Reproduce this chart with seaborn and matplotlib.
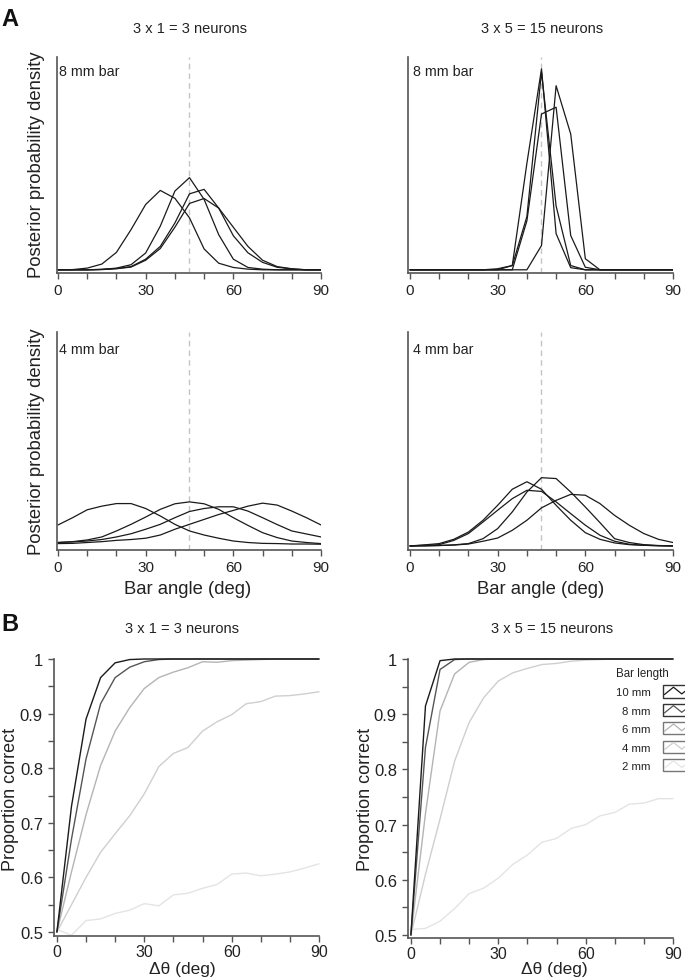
import numpy as np
import pandas as pd
import matplotlib
matplotlib.use("Agg")
import matplotlib.pyplot as plt
import seaborn as sns
from matplotlib.lines import Line2D
from matplotlib.patches import Rectangle
from matplotlib.legend_handler import HandlerBase

# ---------------- data ----------------
angles = list(range(0, 91, 5))          # bar angle (deg) / delta theta (deg)

# Panel A, 8 mm bar, 3 neurons
a8_3n_c1 = [0, 0.001, 0.008, 0.027, 0.082, 0.189, 0.307, 0.373, 0.336, 0.244, 0.098, 0.031, 0.011, 0.003, 0, 0, 0, 0, 0]
a8_3n_c2 = [0, 0, 0, 0.002, 0.008, 0.024, 0.079, 0.205, 0.370, 0.433, 0.331, 0.165, 0.050, 0.011, 0.003, 0, 0, 0, 0]
a8_3n_c3 = [0, 0, 0, 0.002, 0.006, 0.015, 0.050, 0.110, 0.220, 0.357, 0.378, 0.290, 0.160, 0.080, 0.035, 0.012, 0.004, 0, 0]
a8_3n_c4 = [0, 0, 0, 0.001, 0.005, 0.013, 0.045, 0.100, 0.200, 0.312, 0.335, 0.290, 0.200, 0.110, 0.045, 0.015, 0.005, 0, 0]

# Panel A, 8 mm bar, 15 neurons
a8_15n_c1 = [0, 0, 0, 0, 0, 0, 0.0, 0.020, 0.500, 0.944, 0.170, 0.010, 0, 0, 0, 0, 0, 0, 0]
a8_15n_c2 = [0, 0, 0, 0, 0, 0, 0.005, 0.020, 0.250, 0.930, 0.300, 0.020, 0, 0, 0, 0, 0, 0, 0]
a8_15n_c3 = [0, 0, 0, 0, 0, 0, 0, 0.0, 0.230, 0.732, 0.764, 0.161, 0.012, 0, 0, 0, 0, 0, 0]
a8_15n_c4 = [0, 0, 0, 0, 0, 0, 0, 0, 0.0, 0.114, 0.865, 0.638, 0.052, 0.0, 0, 0, 0, 0, 0]

# Panel A, 4 mm bar, 3 neurons
a4_3n_c1 = [0.098, 0.132, 0.169, 0.186, 0.198, 0.198, 0.175, 0.140, 0.101, 0.070, 0.051, 0.036, 0.023, 0.016, 0.012, 0.011, 0.009, 0.009, 0.008]
a4_3n_c2 = [0.016, 0.020, 0.028, 0.042, 0.070, 0.101, 0.135, 0.171, 0.197, 0.206, 0.197, 0.171, 0.132, 0.096, 0.062, 0.039, 0.023, 0.016, 0.011]
a4_3n_c3 = [0.016, 0.019, 0.023, 0.030, 0.042, 0.057, 0.078, 0.101, 0.132, 0.161, 0.175, 0.183, 0.183, 0.163, 0.132, 0.100, 0.070, 0.056, 0.042]
a4_3n_c4 = [0.011, 0.012, 0.016, 0.020, 0.026, 0.030, 0.036, 0.051, 0.078, 0.101, 0.124, 0.147, 0.166, 0.186, 0.200, 0.191, 0.163, 0.132, 0.098]

# Panel A, 4 mm bar, 15 neurons
a4_15n_c1 = [0, 0.005, 0.011, 0.031, 0.065, 0.120, 0.190, 0.265, 0.300, 0.265, 0.190, 0.120, 0.062, 0.031, 0.014, 0.006, 0.003, 0.001, 0]
a4_15n_c2 = [0, 0, 0.002, 0.005, 0.011, 0.034, 0.081, 0.159, 0.252, 0.319, 0.315, 0.252, 0.182, 0.109, 0.034, 0.016, 0.006, 0.002, 0]
a4_15n_c3 = [0, 0.003, 0.006, 0.026, 0.058, 0.112, 0.167, 0.221, 0.260, 0.255, 0.206, 0.151, 0.097, 0.050, 0.022, 0.008, 0.003, 0.001, 0]
a4_15n_c4 = [0, 0.001, 0.002, 0.004, 0.009, 0.022, 0.037, 0.073, 0.120, 0.178, 0.213, 0.241, 0.237, 0.198, 0.143, 0.097, 0.058, 0.031, 0.016]

# Panel B, proportion correct, 3 neurons
bar_lengths = ["10 mm", "8 mm", "6 mm", "4 mm", "2 mm"]
b3_10mm = [0.5, 0.73, 0.89, 0.966, 0.993, 0.999, 1, 1, 1, 1, 1, 1, 1, 1, 1, 1, 1, 1, 1]
b3_8mm = [0.5, 0.67, 0.817, 0.918, 0.966, 0.985, 0.995, 0.999, 1, 1, 1, 1, 1, 1, 1, 1, 1, 1, 1]
b3_6mm = [0.5, 0.61, 0.715, 0.805, 0.868, 0.911, 0.946, 0.966, 0.976, 0.984, 0.995, 0.994, 0.997, 0.998, 0.999, 1, 1, 1, 1]
b3_4mm = [0.5, 0.55, 0.60, 0.646, 0.68, 0.713, 0.753, 0.803, 0.827, 0.838, 0.868, 0.885, 0.898, 0.918, 0.922, 0.932, 0.933, 0.936, 0.94]
b3_2mm = [0.505, 0.494, 0.521, 0.524, 0.534, 0.54, 0.552, 0.548, 0.568, 0.571, 0.58, 0.587, 0.606, 0.608, 0.603, 0.606, 0.61, 0.617, 0.625]

# Panel B, proportion correct, 15 neurons
b15_10mm = [0.5, 0.915, 0.997, 1, 1, 1, 1, 1, 1, 1, 1, 1, 1, 1, 1, 1, 1, 1, 1]
b15_8mm = [0.5, 0.84, 0.981, 0.999, 1, 1, 1, 1, 1, 1, 1, 1, 1, 1, 1, 1, 1, 1, 1]
b15_6mm = [0.5, 0.72, 0.906, 0.973, 0.994, 0.999, 1, 1, 1, 1, 1, 1, 1, 1, 1, 1, 1, 1, 1]
b15_4mm = [0.5, 0.61, 0.71, 0.815, 0.885, 0.93, 0.96, 0.975, 0.983, 0.99, 0.992, 0.996, 0.998, 0.999, 1, 1, 1, 1, 1]
b15_2mm = [0.51, 0.512, 0.525, 0.548, 0.575, 0.585, 0.603, 0.628, 0.645, 0.668, 0.675, 0.693, 0.70, 0.716, 0.722, 0.737, 0.739, 0.747, 0.747]

# ---------------- style ----------------
sns.set_theme(style="ticks")
plt.rcParams["font.family"] = ["Liberation Sans", "DejaVu Sans"]
plt.rcParams["axes.linewidth"] = 1.2

W, H = 685, 979
fig = plt.figure(figsize=(W / 100, H / 100), dpi=100)


def rect(l, t, r, b):
    return [l / W, 1 - b / H, (r - l) / W, (b - t) / H]


SPINE = "#555555"
CURVE = "#1a1a1a"
TXT = "#222222"
line_colors = ["#1a1a1a", "#555555", "#b4b4b4", "#cfcfcf", "#e4e4e4"]


def style_A(ax, xlo, ylo):
    ax.set_xlim(xlo, 90)
    ax.set_ylim(ylo, 1.0)
    sns.despine(ax=ax)
    for s in ("left", "bottom"):
        ax.spines[s].set_color(SPINE)
        ax.spines[s].set_linewidth(1.2)
    ax.set_xticks(range(0, 91, 10))
    ax.set_xticklabels(["0", "", "", "30", "", "", "60", "", "", "90"])
    ax.set_yticks([])
    ax.tick_params(axis="x", length=4, width=1, color=SPINE, labelsize=11, pad=3, labelcolor=TXT)
    ax.set_xlabel("")
    ax.set_ylabel("")
    ax.axvline(45, color="#c4c4c4", lw=1.0, ls=(0, (4, 3)), zorder=0)


def style_B(ax, ylo):
    ax.set_xlim(-1, 90)
    ax.set_ylim(ylo, 1.0)
    sns.despine(ax=ax)
    for s in ("left", "bottom"):
        ax.spines[s].set_color(SPINE)
        ax.spines[s].set_linewidth(1.2)
    ax.set_xticks(range(0, 91, 10))
    ax.set_xticklabels(["0", "", "", "30", "", "", "60", "", "", "90"])
    yt = [0.5, 0.55, 0.6, 0.65, 0.7, 0.75, 0.8, 0.85, 0.9, 0.95, 1.0]
    ax.set_yticks(yt)
    ax.set_yticklabels(["0.5", "", "0.6", "", "0.7", "", "0.8", "", "0.9", "", "1"])
    ax.tick_params(axis="x", length=4, width=1, color=SPINE, labelsize=11.5, pad=1.5, labelcolor=TXT)
    ax.tick_params(axis="y", length=4, width=1, color=SPINE, labelsize=12, pad=4, labelcolor=TXT)
    ax.set_xlabel("")
    ax.set_ylabel("")


# ---------------- Panel A ----------------
axA1 = fig.add_axes(rect(57, 58, 321, 274))
axA2 = fig.add_axes(rect(408, 58, 673, 274))
axA3 = fig.add_axes(rect(57, 333, 321, 551))
axA4 = fig.add_axes(rect(408, 333, 673, 551))

for ax, curves in [
    (axA1, [a8_3n_c1, a8_3n_c2, a8_3n_c3, a8_3n_c4]),
    (axA2, [a8_15n_c1, a8_15n_c2, a8_15n_c3, a8_15n_c4]),
    (axA3, [a4_3n_c1, a4_3n_c2, a4_3n_c3, a4_3n_c4]),
    (axA4, [a4_15n_c1, a4_15n_c2, a4_15n_c3, a4_15n_c4]),
]:
    for c in curves:
        sns.lineplot(x=angles, y=c, ax=ax, color=CURVE, lw=0.9)

style_A(axA1, -0.34, -0.015)
style_A(axA2, -0.68, -0.015)
style_A(axA3, -0.34, -0.019)
style_A(axA4, -0.68, -0.019)

# ---------------- Panel B ----------------
axB1 = fig.add_axes(rect(54, 660, 319, 937))
axB2 = fig.add_axes(rect(408, 660, 673, 939))

for ax, series in [
    (axB1, [b3_10mm, b3_8mm, b3_6mm, b3_4mm, b3_2mm]),
    (axB2, [b15_10mm, b15_8mm, b15_6mm, b15_4mm, b15_2mm]),
]:
    for vals, col in reversed(list(zip(series, line_colors))):
        sns.lineplot(x=angles, y=vals, ax=ax, color=col, lw=1.0, clip_on=False)

style_B(axB1, 0.4927)
style_B(axB2, 0.4946)


# legend with boxed zig-zag handles
class BoxZig(HandlerBase):
    def create_artists(self, legend, orig_handle, xdescent, ydescent, width, height, fontsize, trans):
        col = orig_handle.get_color()
        edge = "#333333" if col in line_colors[:2] else "#777777"
        x0, y0 = -xdescent, -ydescent
        r = Rectangle((x0, y0 - 1), width, height + 2, fill=False, edgecolor=edge, lw=1.0, transform=trans)
        fx = [0.06, 0.42, 0.75, 0.97]
        fy = [0.25, 0.85, 0.3, 0.65]
        ln = Line2D([x0 + f * width for f in fx], [y0 - 1 + f * (height + 2) for f in fy],
                    color=col, lw=0.9, transform=trans)
        return [r, ln]


handles = [Line2D([], [], color=c) for c in line_colors]
leg = axB2.legend(handles, bar_lengths, handler_map={Line2D: BoxZig()},
                  title="Bar length", title_fontsize=8.3, fontsize=8.2,
                  markerfirst=False, frameon=False, loc="upper right",
                  bbox_to_anchor=(688 / W, 1 - 668 / H), bbox_transform=fig.transFigure,
                  borderpad=0, borderaxespad=0, handlelength=2.2, handleheight=0.9,
                  handletextpad=1.1, labelspacing=0.68, alignment="left")
for t in leg.get_texts():
    t.set_color(TXT)
leg.get_title().set_color(TXT)

# ---------------- texts ----------------
def ftext(x, y, s, **kw):
    fig.text(x / W, 1 - y / H, s, **kw)

ftext(1, 26, "A", fontsize=17, fontweight="bold", ha="left", va="baseline", color="#111111")
ftext(1, 631, "B", fontsize=17, fontweight="bold", ha="left", va="baseline", color="#111111")

ftext(190, 29, "3 x 1 = 3 neurons", fontsize=10.5, ha="center", va="center", color=TXT)
ftext(542, 29, "3 x 5 = 15 neurons", fontsize=10.5, ha="center", va="center", color=TXT)
ftext(182, 629, "3 x 1 = 3 neurons", fontsize=10.5, ha="center", va="center", color=TXT)
ftext(552, 629, "3 x 5 = 15 neurons", fontsize=10.5, ha="center", va="center", color=TXT)

for x in (59, 413):
    ftext(x, 72, "8 mm bar", fontsize=10.3, ha="left", va="center", color=TXT)
    ftext(x, 350, "4 mm bar", fontsize=10.3, ha="left", va="center", color=TXT)

ftext(37, 165, "Posterior probability density", fontsize=13.3, rotation=90, ha="center", va="center", color=TXT)
ftext(37, 442, "Posterior probability density", fontsize=13.3, rotation=90, ha="center", va="center", color=TXT)
ftext(188, 589, "Bar angle (deg)", fontsize=13.3, ha="center", va="center", color=TXT)
ftext(541, 589, "Bar angle (deg)", fontsize=13.3, ha="center", va="center", color=TXT)

ftext(11, 799, "Proportion correct", fontsize=13, rotation=90, ha="center", va="center", color=TXT)
ftext(366, 799, "Proportion correct", fontsize=13, rotation=90, ha="center", va="center", color=TXT)
ftext(182, 969.5, "\u0394\u03b8 (deg)", fontsize=12.5, ha="center", va="center", color=TXT)
ftext(554, 969.5, "\u0394\u03b8 (deg)", fontsize=12.5, ha="center", va="center", color=TXT)

fig.savefig("out.png", dpi=100, facecolor="white")
